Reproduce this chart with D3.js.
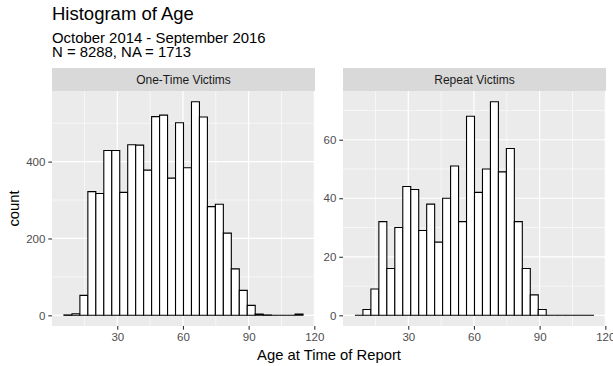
<!DOCTYPE html>
<html>
<head>
<meta charset="utf-8">
<script src="https://cdn.jsdelivr.net/npm/d3@7/dist/d3.min.js"></script>
<style>
  body { margin: 0; background: #fff; }
  text { font-family: "Liberation Sans", Arial, Helvetica, sans-serif; }
</style>
</head>
<body>
<script>
// histogram bins (ggplot default 30 bins)
const binStart = 5.65;
const binWidth = 3.64;
const panelNames = ["One-Time Victims", "Repeat Victims"];
const oneTimeCounts = [1, 4, 52, 322, 317, 429, 429, 320, 444, 443, 378, 517, 521, 357, 501,
                       384, 556, 516, 283, 289, 214, 121, 65, 26, 3, 1, 0, 0, 0, 3];
const repeatCounts = [0, 2, 9, 32, 16, 30, 44, 43, 29, 38, 25, 40, 51, 32, 68,
                      42, 50, 73, 49, 57, 32, 16, 7, 2, 0, 0, 0, 0, 0, 0];
const xTicks = [30, 60, 90, 120];
const xMinor = [15, 45, 75, 105];
const yTicksLeft = [0, 200, 400];
const yMinorLeft = [100, 300, 500];
const yTicksRight = [0, 20, 40, 60];
const yMinorRight = [10, 30, 50, 70];

const titleText = "Histogram of Age";
const subtitleLines = ["October 2014 - September 2016", "N = 8288, NA = 1713"];
const xTitle = "Age at Time of Report";
const yTitle = "count";

const width = 613, height = 366;
const svg = d3.select("body").append("svg")
    .attr("width", width)
    .attr("height", height);

const stripTop = 68, panelTop = 91, panelBottom = 326;

// x range with ggplot's 5% expansion
const binEnd = binStart + binWidth * oneTimeCounts.length;
const pad = (binEnd - binStart) * 0.05;

const panels = [
    {name: panelNames[0], counts: oneTimeCounts, x0: 52, x1: 315, ticks: yTicksLeft, minor: yMinorLeft},
    {name: panelNames[1], counts: repeatCounts, x0: 343, x1: 606, ticks: yTicksRight, minor: yMinorRight}
];

panels.forEach(function (p) {
    const x = d3.scaleLinear()
        .domain([binStart - pad, binEnd + pad])
        .range([p.x0, p.x1]);
    const ymax = d3.max(p.counts);
    const y = d3.scaleLinear()
        .domain([-ymax * 0.05, ymax * 1.05])
        .range([panelBottom, panelTop]);

    const g = svg.append("g");

    // strip
    g.append("rect")
        .attr("x", p.x0).attr("y", stripTop)
        .attr("width", p.x1 - p.x0).attr("height", panelTop - stripTop)
        .attr("fill", "#d9d9d9");
    g.append("text")
        .attr("x", (p.x0 + p.x1) / 2).attr("y", 83.8)
        .attr("text-anchor", "middle")
        .attr("font-size", "12px")
        .attr("fill", "#1a1a1a")
        .text(p.name);

    // panel background
    g.append("rect")
        .attr("x", p.x0).attr("y", panelTop)
        .attr("width", p.x1 - p.x0).attr("height", panelBottom - panelTop)
        .attr("fill", "#ebebeb");

    // grid: minor then major
    g.selectAll(".vminor").data(xMinor).enter().append("line")
        .attr("x1", d => x(d)).attr("x2", d => x(d))
        .attr("y1", panelTop).attr("y2", panelBottom)
        .attr("stroke", "#fff").attr("stroke-width", 0.6);
    g.selectAll(".hminor").data(p.minor).enter().append("line")
        .attr("y1", d => y(d)).attr("y2", d => y(d))
        .attr("x1", p.x0).attr("x2", p.x1)
        .attr("stroke", "#fff").attr("stroke-width", 0.6);
    g.selectAll(".vmajor").data(xTicks).enter().append("line")
        .attr("x1", d => x(d)).attr("x2", d => x(d))
        .attr("y1", panelTop).attr("y2", panelBottom)
        .attr("stroke", "#fff").attr("stroke-width", 1.2);
    g.selectAll(".hmajor").data(p.ticks).enter().append("line")
        .attr("y1", d => y(d)).attr("y2", d => y(d))
        .attr("x1", p.x0).attr("x2", p.x1)
        .attr("stroke", "#fff").attr("stroke-width", 1.2);

    // bars as paths so empty bins still show their outline on the baseline
    g.selectAll(".bar").data(p.counts).enter().append("path")
        .attr("d", function (d, i) {
            const a = x(binStart + i * binWidth), b = x(binStart + (i + 1) * binWidth);
            return `M${a},${y(0)}V${y(d)}H${b}V${y(0)}Z`;
        })
        .attr("fill", "#fff")
        .attr("stroke", "#000")
        .attr("stroke-width", 1.1);

    // axes
    const xAxis = d3.axisBottom(x).tickValues(xTicks).tickSize(3.7).tickPadding(3);
    const xg = g.append("g").attr("transform", `translate(0,${panelBottom})`).call(xAxis);
    const yAxis = d3.axisLeft(y).tickValues(p.ticks).tickSize(3.7).tickPadding(3);
    const yg = g.append("g").attr("transform", `translate(${p.x0},0)`).call(yAxis);
    [xg, yg].forEach(function (a) {
        a.select(".domain").remove();
        a.selectAll(".tick line").attr("stroke", "#333").attr("stroke-width", 1.1);
        a.selectAll(".tick text")
            .attr("fill", "#4d4d4d")
            .style("font-family", '"Liberation Sans", Arial, sans-serif')
            .style("font-size", "11.5px");
    });
});

// titles
svg.append("text")
    .attr("x", 52).attr("y", 20)
    .attr("font-size", "18.5px")
    .attr("fill", "#000")
    .text(titleText);
svg.selectAll(".sub").data(subtitleLines).enter().append("text")
    .attr("x", 52).attr("y", (d, i) => 42.7 + i * 14.6)
    .attr("font-size", "14.9px")
    .attr("fill", "#000")
    .text(d => d);

svg.append("text")
    .attr("x", (52 + 606) / 2).attr("y", 360)
    .attr("text-anchor", "middle")
    .attr("font-size", "14.8px")
    .attr("fill", "#000")
    .text(xTitle);

svg.append("text")
    .attr("transform", `translate(19,${(panelTop + panelBottom) / 2}) rotate(-90)`)
    .attr("text-anchor", "middle")
    .attr("font-size", "14.8px")
    .attr("fill", "#000")
    .text(yTitle);
</script>
</body>
</html>
